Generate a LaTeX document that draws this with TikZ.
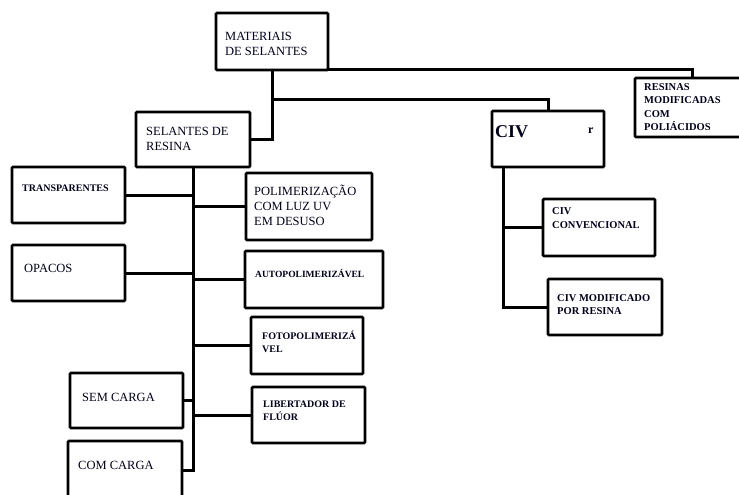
\documentclass[tikz,border=0pt]{standalone}
\usepackage{fontspec}
\setmainfont{Liberation Serif}
\begin{document}
\begin{tikzpicture}[x=1pt,y=-1pt,
  box/.style={draw=black,line width=2.6pt,rounded corners=1pt,inner sep=0pt,outer sep=0pt},
  conn/.style={draw=black,line width=3pt},
  txt/.style={anchor=west,align=left,inner sep=0pt,text=black!90!blue},
  reg/.style={txt,font=\fontsize{12.5}{14.5}\selectfont},
  bsm/.style={txt,font=\fontsize{10}{13}\selectfont\bfseries}]
\useasboundingbox (0,0) rectangle (739,495);
\clip (0,0) rectangle (739,495);
% boxes
\node[box,minimum width=112pt,minimum height=57pt] (mat) at (272,41.5) {};
\node[box,minimum width=115pt,minimum height=59pt] (res) at (692.5,107.5) {};
\node[box,minimum width=112pt,minimum height=56pt] (civ) at (548,139) {};
\node[box,minimum width=114pt,minimum height=55pt] (sel) at (193,139.5) {};
\node[box,minimum width=113pt,minimum height=56pt] (trans) at (68.5,195) {};
\node[box,minimum width=126pt,minimum height=67pt] (poli) at (309,206.5) {};
\node[box,minimum width=113pt,minimum height=56pt] (opa) at (68.5,273) {};
\node[box,minimum width=138pt,minimum height=57pt] (auto) at (314,279.5) {};
\node[box,minimum width=112pt,minimum height=57pt] (foto) at (307,345.5) {};
\node[box,minimum width=113pt,minimum height=55pt] (sem) at (126.5,400.5) {};
\node[box,minimum width=114pt,minimum height=59pt] (com) at (125,470.5) {};
\node[box,minimum width=113pt,minimum height=56pt] (lib) at (308.5,415) {};
\node[box,minimum width=112pt,minimum height=57pt] (conv) at (599,227.5) {};
\node[box,minimum width=114pt,minimum height=56pt] (mod) at (605,307) {};
% texts
\node[reg] (matT) at (225,44) {MATERIAIS\\DE SELANTES};
\node[txt,font=\fontsize{10.5}{13.6}\selectfont\bfseries] (resT) at (644,107) {RESINAS\\MODIFICADAS\\COM\\POLIÁCIDOS};
\node[txt,font=\fontsize{18}{20}\selectfont\bfseries] (civT) at (495,132) {CIV};
\node[txt,font=\fontsize{12}{13}\selectfont\bfseries] (civR) at (588,131) {r};
\node[reg] (selT) at (146,139) {SELANTES DE\\RESINA};
\node[bsm] (transT) at (22,188) {TRANSPARENTES};
\node[txt,font=\fontsize{12.5}{15}\selectfont] (poliT) at (254,205) {POLIMERIZAÇÃO\\COM LUZ UV\\EM DESUSO};
\node[reg] (opaT) at (24,268) {OPACOS};
\node[txt,font=\fontsize{9.5}{12}\selectfont\bfseries] (autoT) at (255,273) {AUTOPOLIMERIZÁVEL};
\node[bsm] (fotoT) at (262,341.5) {FOTOPOLIMERIZÁ\\VEL};
\node[reg] (semT) at (82,397) {SEM CARGA};
\node[reg] (comT) at (78,465) {COM CARGA};
\node[bsm] (libT) at (263,410.5) {LIBERTADOR DE\\FLÚOR};
\node[txt,font=\fontsize{10.5}{13.5}\selectfont\bfseries] (convT) at (552,218) {CIV\\CONVENCIONAL};
\node[txt,font=\fontsize{10.5}{13}\selectfont\bfseries] (modT) at (557,304.5) {CIV MODIFICADO\\POR RESINA};
% connectors
\coordinate (j1) at (272,99);
\coordinate (cvs) at ([xshift=11pt]civ.south west);
\draw[conn] (mat.south east) -| (res.north);
\draw[conn] (mat.south) |- (sel.east);
\draw[conn] (j1) -| (civ.north);
\draw[conn] (sel.south) |- (com.east);
\draw[conn] (sel.south |- trans.east) -- (trans.east);
\draw[conn] (sel.south |- poli.west) -- (poli.west);
\draw[conn] (sel.south |- opa.east) -- (opa.east);
\draw[conn] (sel.south |- auto.west) -- (auto.west);
\draw[conn] (sel.south |- foto.west) -- (foto.west);
\draw[conn] (sel.south |- sem.east) -- (sem.east);
\draw[conn] (sel.south |- lib.west) -- (lib.west);
\draw[conn] (cvs) |- (mod.west);
\draw[conn] (cvs |- conv.west) -- (conv.west);
\end{tikzpicture}
\end{document}
